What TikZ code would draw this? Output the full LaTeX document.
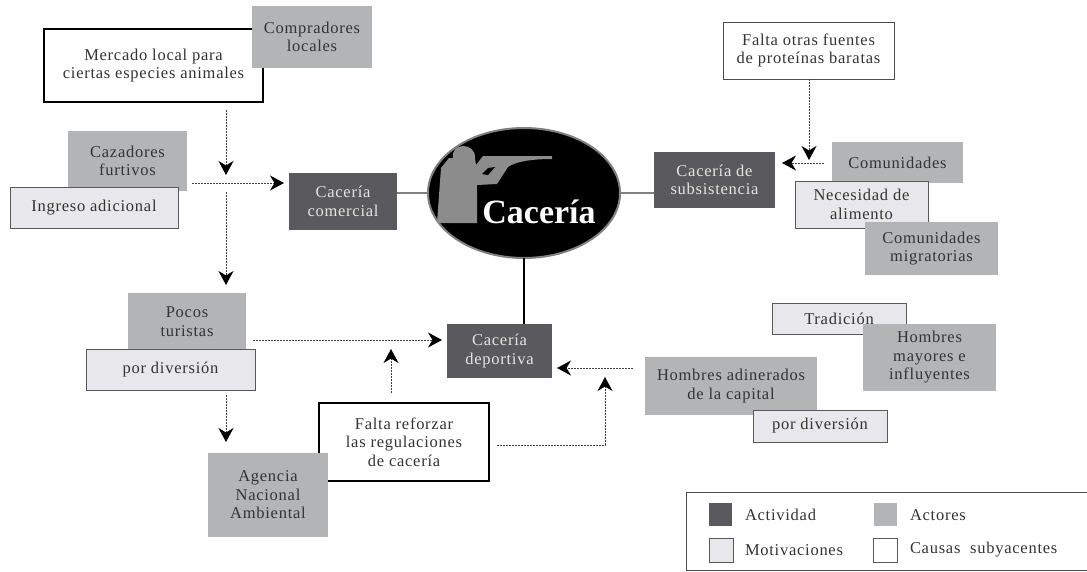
\documentclass[tikz,border=0pt]{standalone}
\usepackage{fontspec}
\setmainfont{Liberation Serif}
\usetikzlibrary{arrows.meta,shapes.geometric}

\definecolor{actgray}{HTML}{5A5A5E}
\definecolor{actorgray}{HTML}{B2B4B6}
\definecolor{motgray}{HTML}{E8E8EC}

\begin{document}
\begin{tikzpicture}
		[x=1pt,y=-1pt,
		txt/.style= {font=\fontsize{16.5}{18.5}\selectfont\addfontfeature{LetterSpace=4.5},align=center,inner sep=0pt,outer sep=0pt,text=black!80},
		act/.style= {txt,fill=actgray,text=white!90!black},
		actor/.style= {txt,fill=actorgray},
		mot/.style= {txt,fill=motgray,draw=black!65,thick},
		cau/.style= {txt,fill=white,draw=black!70,thick},
		cauthick/.style= {txt,fill=white,draw=black,line width=1.5pt},
		swatch/.style= {inner sep=0pt,outer sep=0pt},
		leg/.style= {txt,anchor=west},
		lnk/.style= {black!50,line width=2.5pt},
		arr/.style= {-{Stealth[length=14pt,width=15pt,inset=4.5pt,black]},black!75,line width=1pt,dash pattern=on 2pt off 1pt}]

		\useasboundingbox (0,0) rectangle (1087,571);

		% oval and hunter
		\node[ellipse,draw=black!50,line width=2pt,fill=black,minimum width=192,minimum height=130,inner sep=0pt,outer sep=0pt] (hunt) at (524,193) {};
		\fill[black!45] (437,223) -- (441,168) -- (449,158) -- (453,158)
			.. controls (450,142) and (476,142) .. (475,158)
			-- (476,165) -- (483,156) -- (552,156) -- (552,159)
			.. controls (530,159) and (515,162) .. (508,167)
			-- (497,184) -- (477,185) -- (477,223) -- cycle;
		\fill[black] (482,174) -- (488,168) -- (495,167) -- (488,175) -- cycle;
		\node[font=\fontsize{34}{34}\selectfont\bfseries,text=white,inner sep=0pt] (title) at (539,212) {Cacería};

		% activities
		\node[act,minimum width=108,minimum height=57] (comer) at (343,201.5) {Cacería\\comercial};
		\node[act,minimum width=121,minimum height=56] (subs) at (714.5,180) {Cacería de\\subsistencia};
		\node[act,minimum width=105,minimum height=54] (depor) at (499.5,351) {Cacería\\deportiva};

		\draw[lnk] (hunt.west) -- (hunt.west -| comer.east);
		\draw[lnk] (hunt.east) -- (hunt.east -| subs.west);
		\draw[black,line width=1.5pt] (hunt.south) -- (hunt.south |- depor.north);

		% left side
		\node[cauthick,minimum width=219,minimum height=73] (merc) at (153.5,65.5) {Mercado local para\\ciertas especies animales};
		\node[actor,minimum width=120,minimum height=62] (comp) at (312,37) {Compradores\\locales};
		\node[actor,minimum width=119,minimum height=60] (furt) at (127.5,161) {Cazadores\\furtivos};
		\node[mot,minimum width=168,minimum height=41] (ingr) at (94,207.5) {Ingreso adicional};

		\node[actor,minimum width=118,minimum height=57] (poco) at (187,321.5) {Pocos\\turistas};
		\node[mot,minimum width=169,minimum height=41] (dive) at (170.5,369.5) {por diversión};
		\node[cauthick,minimum width=170,minimum height=78] (refo) at (404,442) {Falta reforzar\\las regulaciones\\de cacería};
		\node[actor,minimum width=120,minimum height=84] (agen) at (268,495) {Agencia\\Nacional\\Ambiental};

		% right side
		\node[cau,minimum width=171,minimum height=57] (prot) at (808.5,50.5) {Falta otras fuentes\\de proteínas baratas};
		\node[actor,minimum width=131,minimum height=41] (comu) at (897.5,162.5) {Comunidades};
		\node[mot,minimum width=133,minimum height=47] (nece) at (861.5,204.5) {Necesidad de\\alimento};
		\node[actor,minimum width=133,minimum height=53] (migr) at (931.5,248.5) {Comunidades\\migratorias};

		\node[mot,minimum width=134,minimum height=31] (trad) at (839,318.5) {Tradición};
		\node[actor,minimum width=133,minimum height=67] (mayo) at (929.5,357.5) {Hombres\\mayores e\\influyentes};
		\node[actor,minimum width=172,minimum height=58] (adin) at (731,386) {Hombres adinerados\\de la capital};
		\node[mot,minimum width=134,minimum height=32] (div2) at (820,426) {por diversión};

		% free ends of the arrows
		\coordinate (a1) at (226,110);
		\coordinate (a2) at (226,175);
		\coordinate (a3) at (192,183);
		\coordinate (a4) at (284,183);
		\coordinate (a5) at (226,192);
		\coordinate (a6) at (226,285);
		\coordinate (a7) at (253,340);
		\coordinate (a8) at (442,340);
		\coordinate (a9) at (391,393);
		\coordinate (a10) at (391,349);
		\coordinate (a11) at (226,395);
		\coordinate (a12) at (226,442);
		\coordinate (a13) at (633,368);
		\coordinate (a14) at (557,368);
		\coordinate (a15) at (497,445);
		\coordinate (a16) at (605,445);
		\coordinate (a17) at (605,377);
		\coordinate (a18) at (809,160);
		\coordinate (a19) at (824,163);
		\coordinate (a20) at (782,163);

		\draw[arr] (a1) -- (a2);
		\draw[arr] (a3) -- (a4);
		\draw[arr] (a5) -- (a6);
		\draw[arr] (a7) -- (a8);
		\draw[arr] (a9) -- (a10);
		\draw[arr] (a11) -- (a12);
		\draw[arr] (a13) -- (a14);
		\draw[arr] (a15) -- (a16) -- (a17);
		\draw[arr] (prot.south -| a18) -- (a18);
		\draw[arr] (a19) -- (a20);

		% legend
		\node[draw=black!70,thick,fill=white,minimum width=402,minimum height=78,inner sep=0pt] (legend) at (887,531) {};
		\node[swatch,fill=actgray,minimum size=23] (k1) at (720.5,514.5) {};
		\node[swatch,fill=actorgray,minimum size=23] (k2) at (885.5,514.5) {};
		\node[swatch,fill=motgray,draw=black!65,thick,minimum size=24] (k3) at (721,550.5) {};
		\node[swatch,fill=white,draw=black!65,thick,minimum size=24] (k4) at (885.5,550.5) {};
		\node[leg] (l1) at (745,515) {Actividad};
		\node[leg] (l2) at (910,515) {Actores};
		\node[leg] (l3) at (745,550) {Motivaciones};
		\node[leg] (l4) at (910,550) {Causas\ \ subyacentes};

	\end{tikzpicture}
\end{document}
